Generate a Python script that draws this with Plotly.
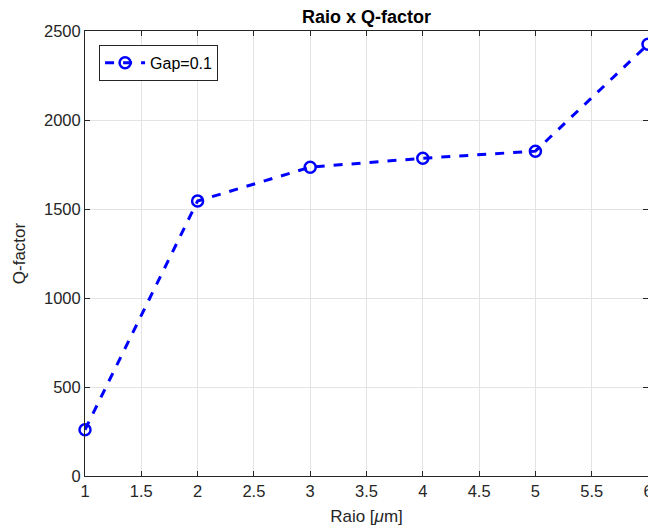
import plotly.graph_objects as go

# Ring radius (µm) vs. quality factor for gap = 0.1
raio = [1, 2, 3, 4, 5, 6]
q_factor = [260, 1545, 1735, 1785, 1825, 2425]
serie_nome = "Gap=0.1"

x_ticks = [1, 1.5, 2, 2.5, 3, 3.5, 4, 4.5, 5, 5.5, 6]
y_ticks = [0, 500, 1000, 1500, 2000, 2500]

azul = "#0000FF"
eixo = "#262626"
grade = "#E3E3E3"
fonte = "Liberation Sans, Arial, sans-serif"

fig = go.Figure()
fig.add_trace(go.Scatter(
    x=raio, y=q_factor, name=serie_nome,
    mode="lines+markers",
    line=dict(color=azul, width=3, dash="dash"),
    marker=dict(symbol="circle-open", size=11, color=azul, line=dict(width=2.5, color=azul)),
    cliponaxis=False,
))

eixo_comum = dict(
    showline=True, linecolor=eixo, linewidth=1, mirror="ticks",
    ticks="inside", ticklen=5, tickcolor=eixo, tickwidth=1,
    showgrid=True, gridcolor=grade, gridwidth=1, zeroline=False,
    ticklabeloverflow="allow", automargin=False,
    tickfont=dict(family=fonte, size=16.5, color=eixo),
)

fig.update_layout(
    width=648, height=531,
    margin=dict(l=85, r=0, t=31, b=55),
    plot_bgcolor="white", paper_bgcolor="white",
    title=dict(text="<b>Raio x Q-factor</b>", x=(85 + 648) / 2 / 648, xanchor="center",
               y=1 - 17 / 531, yanchor="middle",
               font=dict(family=fonte, size=18, color="black")),
    xaxis=dict(range=[1, 6], tickvals=x_ticks, ticktext=[f"{v:g}" for v in x_ticks],
               title=dict(text="Raio [<i>μ</i>m]", standoff=11,
                          font=dict(family=fonte, size=17, color=eixo)),
               **eixo_comum),
    yaxis=dict(range=[0, 2500], tickvals=y_ticks, ticktext=[str(v) for v in y_ticks],
               title=dict(text="Q-factor", standoff=14,
                          font=dict(family=fonte, size=17, color=eixo)),
               **eixo_comum),
    showlegend=True,
    legend=dict(x=0.025, y=0.969, xanchor="left", yanchor="top",
                bgcolor="white", bordercolor=eixo, borderwidth=1,
                font=dict(family=fonte, size=16, color="black"),
                itemwidth=40, tracegroupgap=0),
)

fig.write_html("out.html")
